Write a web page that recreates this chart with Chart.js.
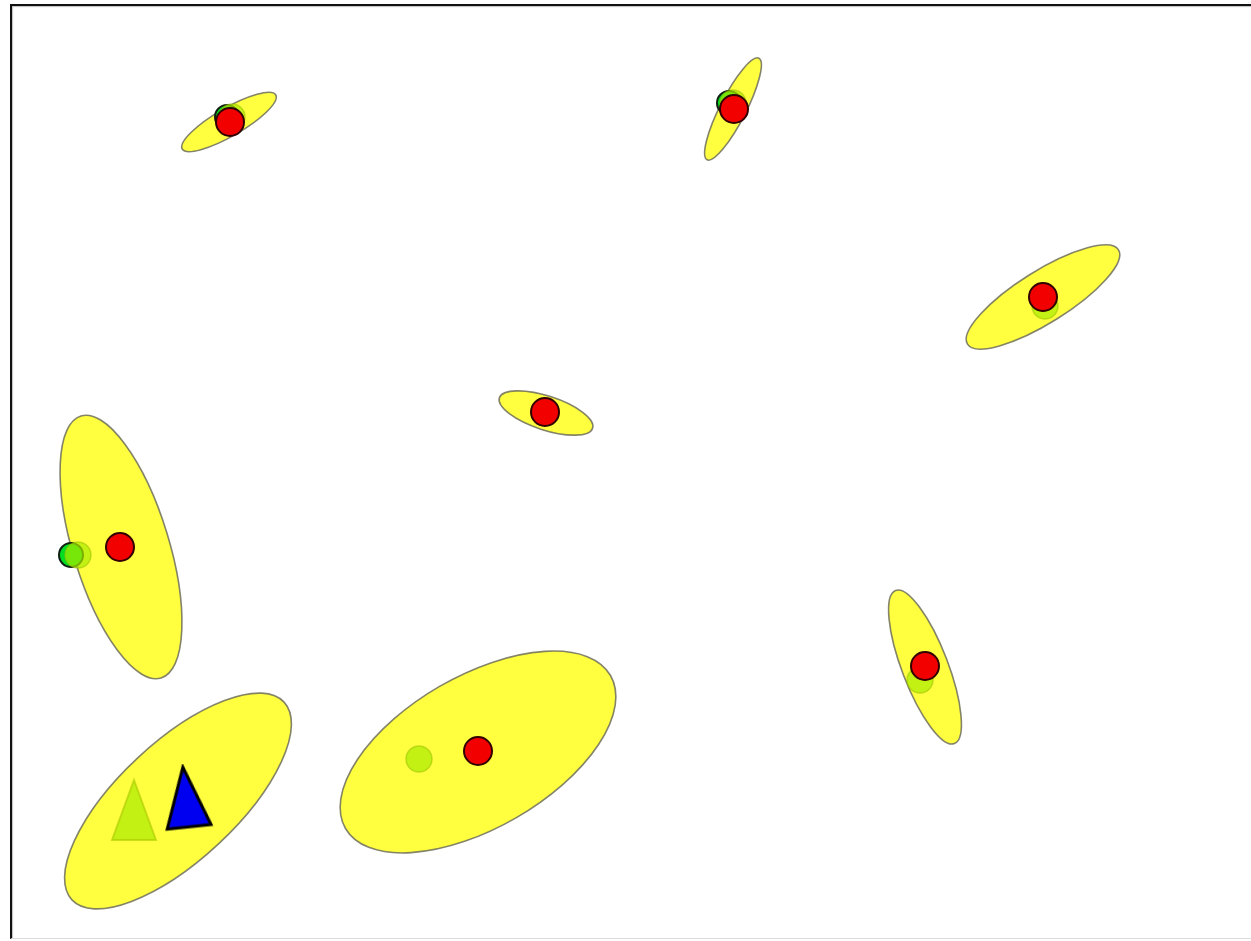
<!DOCTYPE html>
<html>
<head>
<meta charset="utf-8">
<script src="https://cdn.jsdelivr.net/npm/chart.js@4"></script>
<style>
  body { margin: 0; background: #fff; }
  #wrap { position: relative; width: 1251px; height: 941px; overflow: hidden; }
  #frame {
    position: absolute; left: 10px; top: 4px; right: -4px; bottom: 2px;
    border-left: 2px solid #111; border-top: 2px solid #111; border-bottom: 1px solid #ddd;
    box-shadow: inset 1px 1px 1px rgba(0,0,0,0.25);
    pointer-events: none;
  }
</style>
</head>
<body>
<div id="wrap">
  <canvas id="mapChart" width="1251" height="941"></canvas>
  <div id="frame"></div>
</div>
<script>
// covariance ellipses (centre, semi axes, tilt in degrees)
var ellX     = [229, 733, 1043, 546, 121, 925, 478, 178];
var ellY     = [122, 109, 297, 413, 547, 667, 752, 801];
var ellMajor = [54, 57, 89, 49, 137, 82, 153, 145];
var ellMinor = [14, 13, 26, 17, 48, 23, 76, 59];
var ellTilt  = [-30, -63, -32, 18, 73, 69, -30, -43];

// landmarks
var trueLmX = [227, 729, 1043, 545, 71];
var trueLmY = [117, 103, 299, 412, 555];
var estLmX  = [232, 733, 1045, 546, 78, 920, 419];
var estLmY  = [117, 103, 306, 413, 555, 680, 759];
var obsLmX  = [230, 734, 1043, 545, 120, 925, 478];
var obsLmY  = [122, 109, 297, 412, 547, 666, 751];

// robot pose (true / estimated)
var robotTrue = [186, 797];
var robotEst  = [134, 810];
var robotTrueTurn = -6;

function pts(xs, ys) {
    return xs.map(function (x, i) { return {x: x, y: ys[i]}; });
}

function triangleImage(w, h, fill, stroke, lw) {
    var c = document.createElement('canvas');
    c.width = w + lw * 2;
    c.height = h + lw * 2;
    var g = c.getContext('2d');
    g.beginPath();
    g.moveTo(c.width / 2, lw);
    g.lineTo(c.width - lw, c.height - lw);
    g.lineTo(lw, c.height - lw);
    g.closePath();
    g.fillStyle = fill;
    g.fill();
    g.lineWidth = lw;
    g.strokeStyle = stroke;
    g.lineJoin = 'miter';
    g.stroke();
    return c;
}

var ellipsePlugin = {
    id: 'ellipses',
    beforeDatasetsDraw: function (chart) {
        var ctx = chart.ctx;
        var xs = chart.scales.x, ys = chart.scales.y;
        ctx.save();
        for (var i = 0; i < ellX.length; i++) {
            var px = xs.getPixelForValue(ellX[i]);
            var py = ys.getPixelForValue(ellY[i]);
            var ra = Math.abs(xs.getPixelForValue(ellX[i] + ellMajor[i]) - px);
            var rb = Math.abs(xs.getPixelForValue(ellX[i] + ellMinor[i]) - px);
            ctx.beginPath();
            ctx.ellipse(px, py, ra, rb, ellTilt[i] * Math.PI / 180, 0, 2 * Math.PI);
            ctx.fillStyle = 'rgb(255,255,64)';
            ctx.fill();
            ctx.lineWidth = 1.6;
            ctx.strokeStyle = 'rgba(110,110,90,0.85)';
            ctx.stroke();
        }
        ctx.restore();
    }
};

var limeFill = 'rgba(170,235,0,0.7)';

var chart = new Chart(document.getElementById('mapChart'), {
    type: 'scatter',
    data: {
        datasets: [
            {
                label: 'observed',
                data: pts(obsLmX, obsLmY),
                pointRadius: 14,
                backgroundColor: '#f20000',
                borderColor: '#300',
                borderWidth: 2,
                order: 0
            },
            {
                label: 'estimate',
                data: pts(estLmX, estLmY),
                pointRadius: 13,
                backgroundColor: limeFill,
                borderColor: 'rgba(150,190,0,0.5)',
                borderWidth: 1.5,
                order: 1
            },
            {
                label: 'true',
                data: pts(trueLmX, trueLmY),
                pointRadius: 12,
                backgroundColor: '#00dd22',
                borderColor: '#102010',
                borderWidth: 2,
                order: 2
            },
            {
                label: 'robot true',
                data: [{x: robotTrue[0], y: robotTrue[1]}],
                pointRadius: 20,
                pointStyle: triangleImage(44, 60, '#0000f0', '#000', 3),
                rotation: robotTrueTurn,
                order: 3
            },
            {
                label: 'robot estimate',
                data: [{x: robotEst[0], y: robotEst[1]}],
                pointRadius: 20,
                pointStyle: triangleImage(44, 60, limeFill, 'rgba(170,200,0,0.6)', 2),
                order: 4
            }
        ]
    },
    options: {
        responsive: false,
        animation: false,
        clip: false,
        layout: {padding: 0, autoPadding: false},
        plugins: {legend: {display: false}, tooltip: {enabled: false}},
        scales: {
            x: {type: 'linear', min: 0, max: 1251, display: false},
            y: {type: 'linear', min: 0, max: 941, reverse: true, display: false}
        }
    },
    plugins: [ellipsePlugin]
});
</script>
</body>
</html>
